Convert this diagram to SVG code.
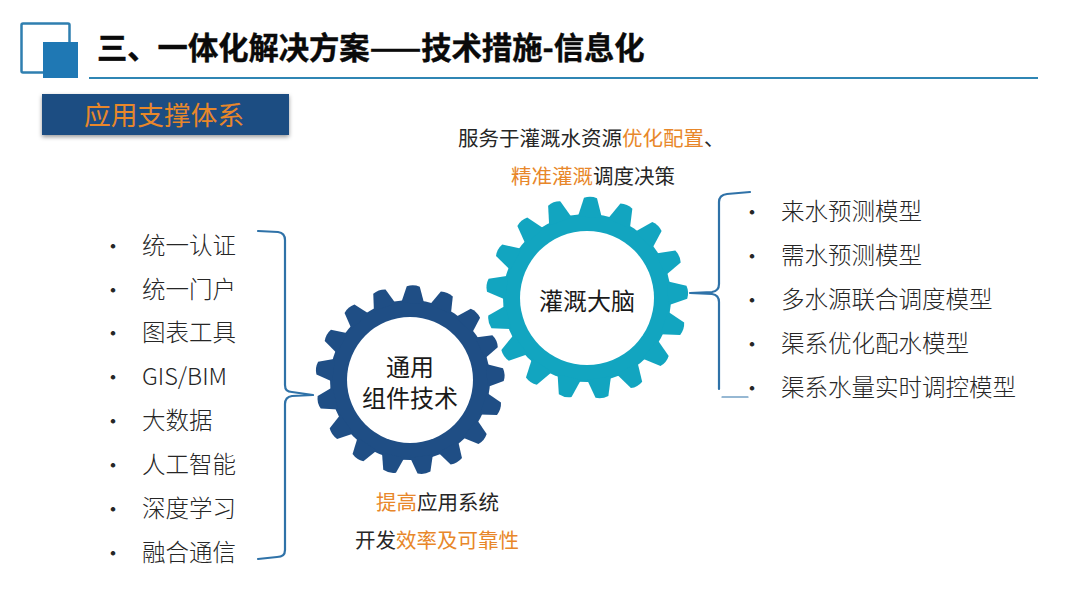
<svg xmlns="http://www.w3.org/2000/svg" width="1080" height="608" viewBox="0 0 1080 608">
<style>
text{font-family:"Noto Sans CJK SC","Noto Sans",sans-serif;dominant-baseline:central;fill:#262626;font-weight:300}
.t{font-size:23.500px}
.g{font-size:24px;font-weight:400;fill:#1a1a1a;text-anchor:middle}
.s{font-size:20.500px;font-weight:400}
.o{fill:#e8872a}
.b{font-size:24px;fill:#262626;text-anchor:middle}
.br{fill:none;stroke:#2f72a8;stroke-width:2.200;stroke-linecap:round;stroke-linejoin:round}
</style>
<defs>
<filter id="sh" x="-5%" y="-20%" width="110%" height="150%"><feDropShadow dx="0" dy="2" stdDeviation="2" flood-color="#000" flood-opacity=".4"/></filter>
<path id="tb" d="M-11.500 -77 L-6.500 -93.500 Q0 -96 6.500 -93.500 L11.500 -77 Z"/>
<path id="tt" d="M-12 -81 L-6.500 -100 Q0 -102.500 6.500 -100 L12 -81 Z"/>
</defs>
<rect width="1080" height="608" fill="#fff"/>
<g id="header">
<rect x="21.500" y="23.500" width="48" height="49" rx="1.500" fill="none" stroke="#2f7fb0" stroke-width="2.500"/>
<rect x="43" y="42" width="35" height="36" fill="#1f78b4"/>
<line x1="89" y1="78" x2="1038" y2="78" stroke="#2f86b4" stroke-width="2"/>
<text x="97" y="45.500" style="font-size:30.300px;font-weight:700;fill:#0a0a0a;stroke:#0a0a0a;stroke-width:.4">三、一体化解决方案——技术措施-信息化</text>
</g>
<g id="section-title">
<rect x="42" y="94" width="247" height="41" fill="#1f4e82" filter="url(#sh)"/>
<text x="84" y="113.500" style="font-size:26.700px;font-weight:400;fill:#e8872a">应用支撑体系</text>
</g>
<g id="connectors">
<path class="br" d="M258 231 L278 232 Q285 233 285 240 L285 385 Q285 392 292 392 L313 395 L292 396 Q285 397 285 404 L285 550 Q285 557 277 557 L258 559"/>
<path class="br" d="M750 192 L727 194 Q719 195 719 202 L719 284 Q719 291 712 292 L690 293 L712 294 Q719 295 719 302 L719 389"/>
<path class="br" d="M722 397 L748 397" style="stroke-width:1.200"/>
</g>
<g id="gear-blue" fill="#1f4e85">
<circle cx="410" cy="380" r="80"/>
<use href="#tb" transform="translate(410 380) rotate(2)"/>
<use href="#tb" transform="translate(410 380) rotate(23.200)"/>
<use href="#tb" transform="translate(410 380) rotate(44.400)"/>
<use href="#tb" transform="translate(410 380) rotate(65.500)"/>
<use href="#tb" transform="translate(410 380) rotate(86.700)"/>
<use href="#tb" transform="translate(410 380) rotate(107.900)"/>
<use href="#tb" transform="translate(410 380) rotate(129.100)"/>
<use href="#tb" transform="translate(410 380) rotate(150.300)"/>
<use href="#tb" transform="translate(410 380) rotate(171.400)"/>
<use href="#tb" transform="translate(410 380) rotate(192.600)"/>
<use href="#tb" transform="translate(410 380) rotate(213.800)"/>
<use href="#tb" transform="translate(410 380) rotate(235)"/>
<use href="#tb" transform="translate(410 380) rotate(256.200)"/>
<use href="#tb" transform="translate(410 380) rotate(277.300)"/>
<use href="#tb" transform="translate(410 380) rotate(298.500)"/>
<use href="#tb" transform="translate(410 380) rotate(319.700)"/>
<use href="#tb" transform="translate(410 380) rotate(340.900)"/>
<circle cx="410" cy="380" r="63" fill="#fff"/>
<text class="g" x="410" y="365">通用</text>
<text class="g" x="410" y="396">组件技术</text>
</g>
<g id="gear-teal" fill="#12a5c0">
<circle cx="587" cy="298" r="84"/>
<use href="#tt" transform="translate(587 298) rotate(2)"/>
<use href="#tt" transform="translate(587 298) rotate(23.200)"/>
<use href="#tt" transform="translate(587 298) rotate(44.400)"/>
<use href="#tt" transform="translate(587 298) rotate(65.500)"/>
<use href="#tt" transform="translate(587 298) rotate(86.700)"/>
<use href="#tt" transform="translate(587 298) rotate(107.900)"/>
<use href="#tt" transform="translate(587 298) rotate(129.100)"/>
<use href="#tt" transform="translate(587 298) rotate(150.300)"/>
<use href="#tt" transform="translate(587 298) rotate(171.400)"/>
<use href="#tt" transform="translate(587 298) rotate(192.600)"/>
<use href="#tt" transform="translate(587 298) rotate(213.800)"/>
<use href="#tt" transform="translate(587 298) rotate(235)"/>
<use href="#tt" transform="translate(587 298) rotate(256.200)"/>
<use href="#tt" transform="translate(587 298) rotate(277.300)"/>
<use href="#tt" transform="translate(587 298) rotate(298.500)"/>
<use href="#tt" transform="translate(587 298) rotate(319.700)"/>
<use href="#tt" transform="translate(587 298) rotate(340.900)"/>
<circle cx="587" cy="298" r="67" fill="#fff"/>
<text class="g" x="587" y="299">灌溉大脑</text>
</g>
<g id="list-left">
<text class="b" x="113" y="244">•</text><text class="t" x="142" y="243.500">统一认证</text>
<text class="b" x="113" y="288">•</text><text class="t" x="142" y="287.500">统一门户</text>
<text class="b" x="113" y="331">•</text><text class="t" x="142" y="330.500">图表工具</text>
<text class="b" x="113" y="375">•</text><text class="t" x="142" y="374.500">GIS/BIM</text>
<text class="b" x="113" y="419">•</text><text class="t" x="142" y="418.500">大数据</text>
<text class="b" x="113" y="463">•</text><text class="t" x="142" y="462.500">人工智能</text>
<text class="b" x="113" y="507">•</text><text class="t" x="142" y="506.500">深度学习</text>
<text class="b" x="113" y="551">•</text><text class="t" x="142" y="550.500">融合通信</text>
</g>
<g id="list-right">
<text class="b" x="752" y="210">•</text><text class="t" x="781" y="209.500">来水预测模型</text>
<text class="b" x="752" y="254">•</text><text class="t" x="781" y="253.500">需水预测模型</text>
<text class="b" x="752" y="298">•</text><text class="t" x="781" y="297.500">多水源联合调度模型</text>
<text class="b" x="752" y="342">•</text><text class="t" x="781" y="341.500">渠系优化配水模型</text>
<text class="b" x="752" y="386">•</text><text class="t" x="781" y="385.500">渠系水量实时调控模型</text>
</g>
<g id="caption-top">
<text class="s" x="458" y="137">服务于灌溉水资源<tspan class="o">优化配置</tspan>、</text>
<text class="s" x="511" y="175"><tspan class="o">精准灌溉</tspan>调度决策</text>
</g>
<g id="caption-bottom">
<text class="s" x="376" y="501"><tspan class="o">提高</tspan>应用系统</text>
<text class="s" x="355" y="539">开发<tspan class="o">效率及可靠性</tspan></text>
</g>
</svg>
